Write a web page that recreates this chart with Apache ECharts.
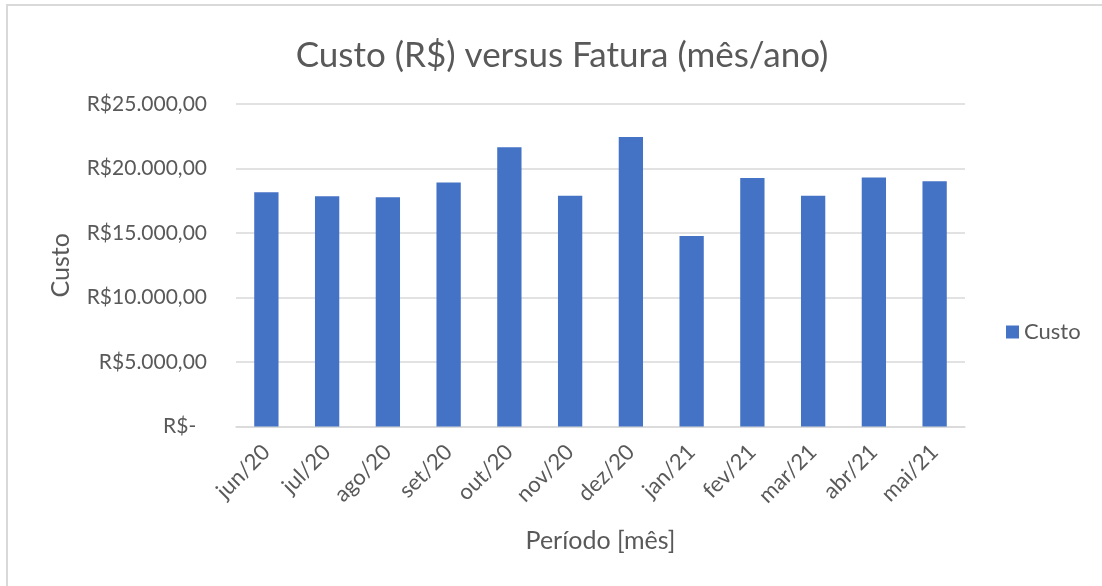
<!DOCTYPE html>
<html>
<head>
<meta charset="utf-8">
<script src="https://cdn.jsdelivr.net/npm/echarts@6/dist/echarts.min.js"></script>
<style>
html,body{margin:0;padding:0;background:#fff;}
#c{width:1102px;height:586px;}
</style>
</head>
<body>
<div id="c"></div>
<script>
const categories = ['jun/20','jul/20','ago/20','set/20','out/20','nov/20','dez/20','jan/21','fev/21','mar/21','abr/21','mai/21'];
const custo = [18150, 17850, 17780, 18910, 21650, 17880, 22450, 14770, 19270, 17880, 19300, 19010];
const yTicks = [0, 5000, 10000, 15000, 20000, 25000];

const FONT = 'Lato, Carlito, "Open Sans", sans-serif';
const GREY = '#595959';

function brl(v) {
  if (v === 0) return 'R$-  ';
  const s = Math.round(v).toString().replace(/\B(?=(\d{3})+(?!\d))/g, '.');
  return 'R$' + s + ',00';
}

const chart = echarts.init(document.getElementById('c'), null, {renderer: 'canvas'});
chart.setOption({
  backgroundColor: '#fff',
  animation: false,
  title: {
    text: 'Custo (R$) versus Fatura (mês/ano)',
    left: 557, top: 33, textAlign: 'center',
    textStyle: {fontFamily: FONT, fontSize: 35, fontWeight: 'normal', color: GREY}
  },
  legend: {
    data: ['Custo'],
    left: 1001, top: 316,
    icon: 'rect', itemWidth: 13, itemHeight: 13, itemGap: 6,
    textStyle: {fontFamily: FONT, fontSize: 22, color: GREY}
  },
  grid: {left: 236, right: 137, top: 104, bottom: 159.5, containLabel: false},
  xAxis: {
    type: 'category',
    data: categories,
    name: 'Período [mês]',
    nameLocation: 'middle',
    nameGap: 102,
    nameTextStyle: {fontFamily: FONT, fontSize: 25, color: GREY},
    axisLine: {lineStyle: {color: '#d9d9d9', width: 1.5}},
    axisTick: {show: false},
    axisLabel: {rotate: 45, margin: 22, fontFamily: FONT, fontSize: 22, color: GREY, interval: 0}
  },
  yAxis: {
    type: 'value',
    min: yTicks[0], max: yTicks[yTicks.length - 1], interval: 5000,
    name: 'Custo',
    nameLocation: 'middle',
    nameGap: 163,
    nameRotate: 90,
    nameTextStyle: {fontFamily: FONT, fontSize: 25, color: GREY},
    axisLine: {show: false},
    axisTick: {show: false},
    splitLine: {lineStyle: {color: '#d9d9d9', width: 1.5}},
    axisLabel: {margin: 29, fontFamily: FONT, fontSize: 21, color: GREY, formatter: brl}
  },
  series: [{
    name: 'Custo',
    type: 'bar',
    data: custo,
    barCategoryGap: '60%',
    itemStyle: {color: '#4472C4'}
  }],
  graphic: [{
    type: 'rect',
    shape: {x: 7, y: 5, width: 1300, height: 800},
    style: {fill: 'none', stroke: '#d9d9d9', lineWidth: 2},
    silent: true, z: 100
  }]
});
</script>
</body>
</html>
